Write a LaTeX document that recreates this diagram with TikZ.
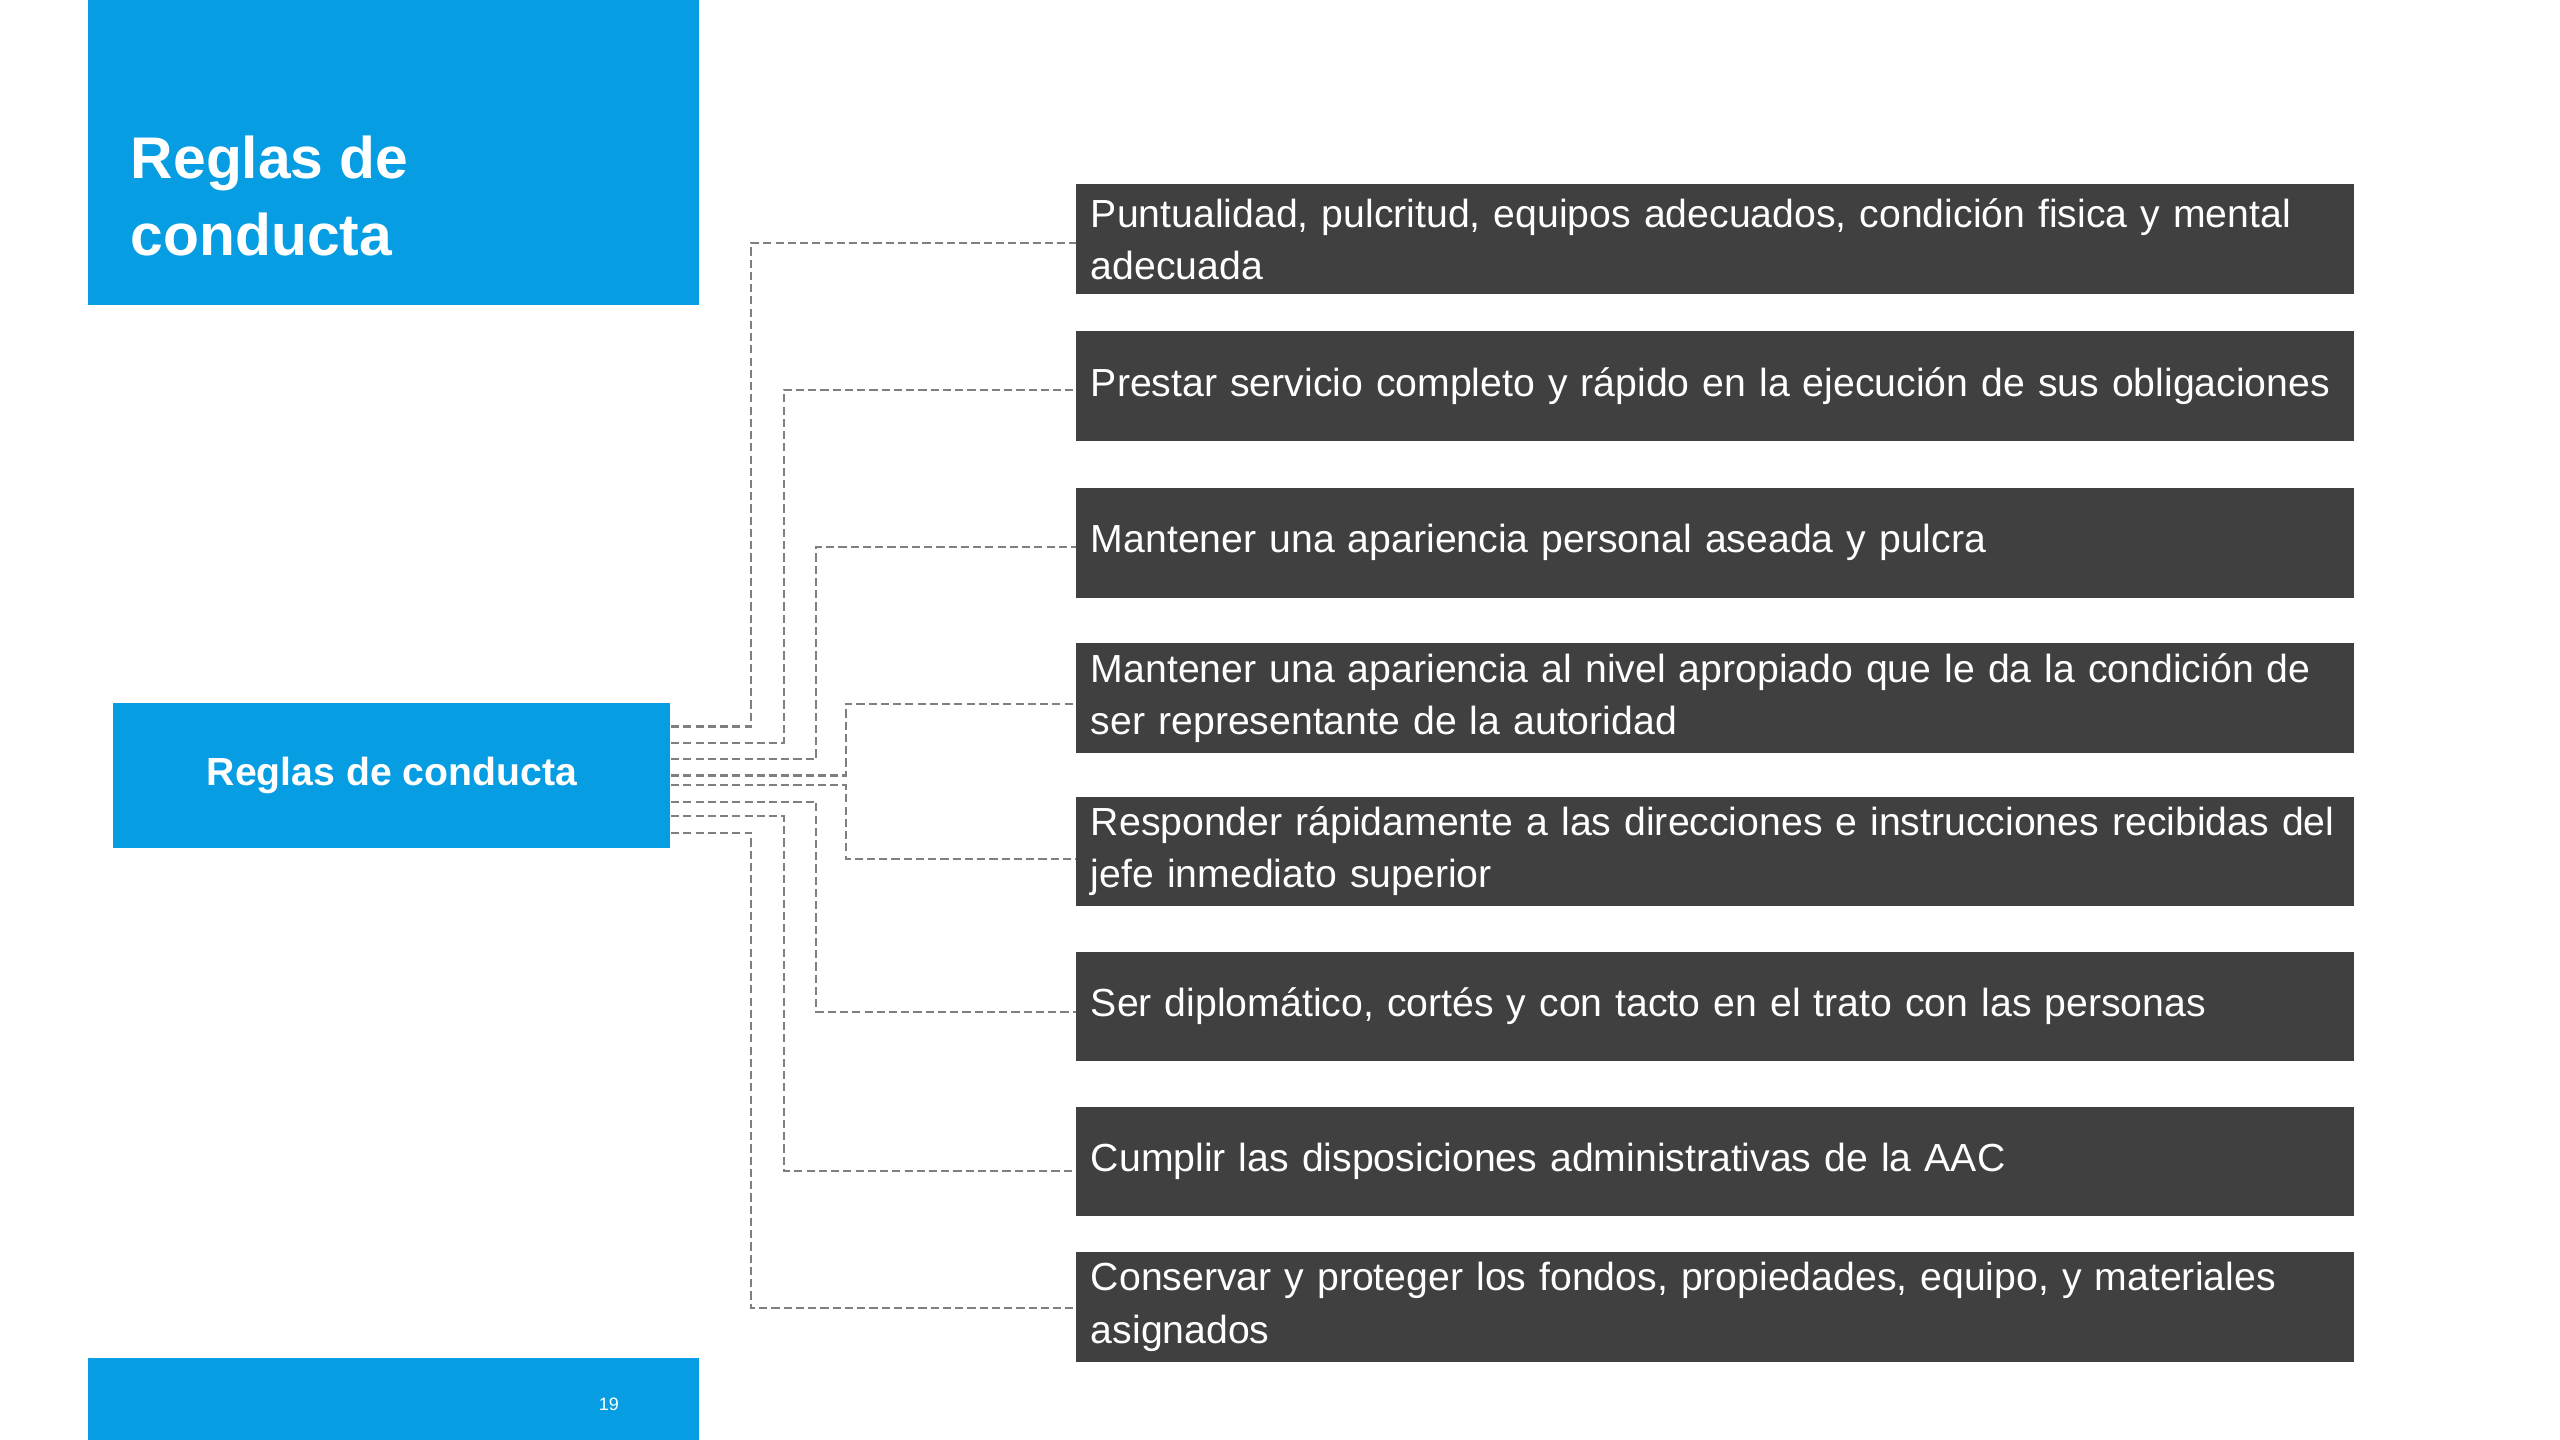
\documentclass[tikz,border=0pt]{standalone}
\usepackage{fontspec}
\setmainfont{Liberation Sans}
\definecolor{blu}{HTML}{069DE3}
\definecolor{dk}{HTML}{404040}
\definecolor{ln}{HTML}{7F7F7F}
\begin{document}
\begin{tikzpicture}[x=1pt,y=-1pt,
  item/.style={fill=dk,text=white,minimum width=783pt,minimum height=67pt,inner sep=0pt,font=\fontsize{24}{32}\selectfont},
  itemtxt/.style={text=white,anchor=west,text width=770pt,align=left,font=\fontsize{24}{32}\selectfont,inner sep=0pt},
  conn/.style={draw=ln,dashed,dash pattern=on 5pt off 2.5pt,line width=1.3pt}]
\useasboundingbox (0,0) rectangle (1568,882);
\fill[blu] (54,0) rectangle (428,187);
\node[anchor=north west,text=white,font=\bfseries\fontsize{36}{47}\selectfont,align=left,inner sep=0pt] (title) at (80,83) {Reglas de\\conducta};
\fill[blu] (54,832) rectangle (428,882);
\node[text=white,font=\fontsize{11}{13}\selectfont] (pg) at (373,860) {19};
\node[fill=blu,minimum width=341pt,minimum height=89pt,inner sep=0pt,text=white,font=\bfseries\fontsize{24}{30}\selectfont] (src) at (240,475) {Reglas de conducta};
\foreach \i/\yy/\t in {1/146.5/{Puntualidad, pulcritud, equipos adecuados, condición fisica y mental adecuada},
  2/236.5/{Prestar servicio completo y rápido en la ejecución de sus obligaciones},
  3/332.5/{Mantener una apariencia personal aseada y pulcra},
  4/427.5/{Mantener una apariencia al nivel apropiado que le da la condición de ser representante de la autoridad},
  5/521.5/{Responder rápidamente a las direcciones e instrucciones recibidas del jefe inmediato superior},
  6/616.5/{Ser diplomático, cortés y con tacto en el trato con las personas},
  7/711.5/{Cumplir las disposiciones administrativas de la AAC},
  8/800.5/{Conservar y proteger los fondos, propiedades, equipo, y materiales asignados}}{
  \node[item] (b\i) at (1050.5,\yy) {};
  \node[itemtxt] (t\i) at (668,\yy) {\t};
}
\foreach \i/\sy/\vx/\ty in {1/445/460/149,2/455/480/239,3/465/500/335,4/475/518/431,5/481/518/526,6/491/500/620,7/500/480/717,8/510/460/801}{
  \coordinate (s\i) at (411,\sy);
  \coordinate (e\i) at (659,\ty);
  \draw[conn] (s\i) -| (\vx,\ty) -- (e\i);
}
\end{tikzpicture}
\end{document}
